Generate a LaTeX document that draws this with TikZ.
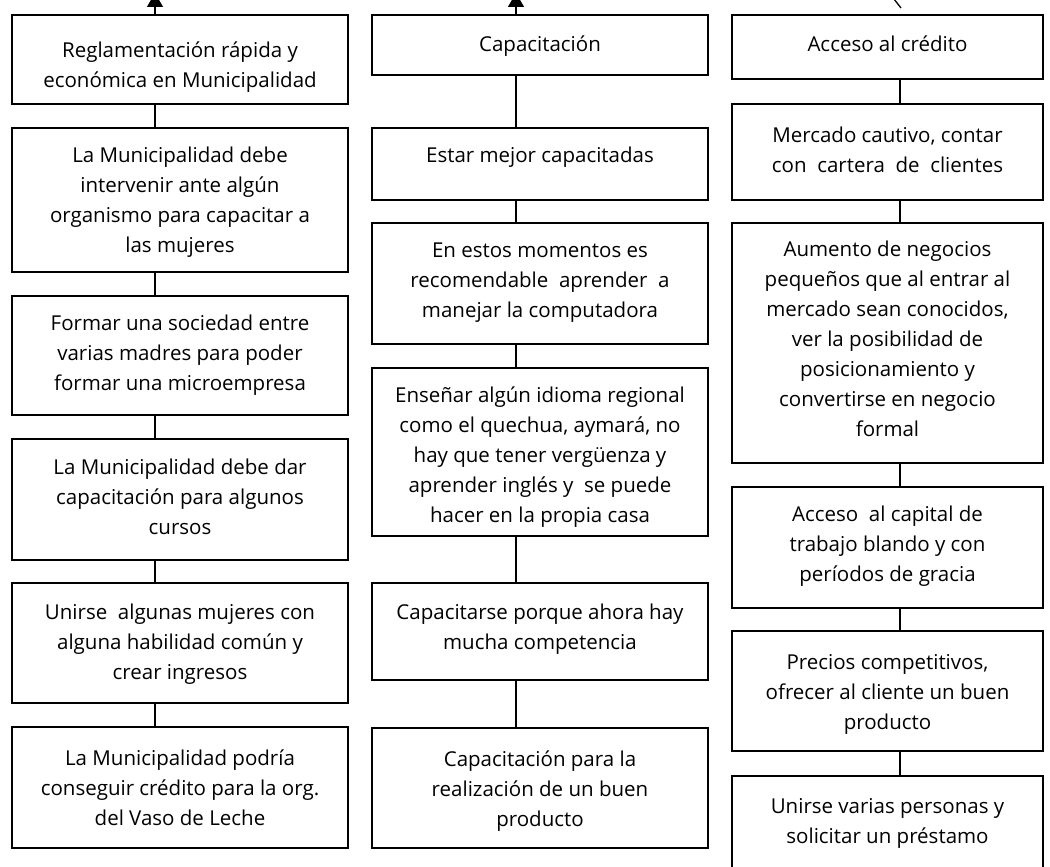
\documentclass[tikz,border=0pt]{standalone}
\usepackage{fontspec}
\setmainfont{Open Sans}
\usetikzlibrary{arrows.meta}
\begin{document}
\begin{tikzpicture}[x=1pt,y=-1pt,
  box/.style={draw=black,line width=1.8pt,rectangle,inner sep=0pt,fill=white},
  txt/.style={anchor=north,align=center,inner sep=0pt,font=\fontsize{20.5pt}{30pt}\selectfont},
  conn/.style={draw=black,line width=1.3pt}]
\useasboundingbox (0,0) rectangle (1050,867);
\clip (0,0) rectangle (1050,867);
% connector x positions
\coordinate (k1) at (155,0);
\coordinate (k2) at (516,0);
\coordinate (k3) at (900,0);
% column 1
\node[box,minimum width=336pt,minimum height=89pt]  (a1) at (180,59.5) {};
\node[box,minimum width=336pt,minimum height=144pt] (a2) at (180,200) {};
\node[box,minimum width=336pt,minimum height=119pt] (a3) at (180,355.5) {};
\node[box,minimum width=336pt,minimum height=121pt] (a4) at (180,499.5) {};
\node[box,minimum width=336pt,minimum height=120pt] (a5) at (180,643) {};
\node[box,minimum width=336pt,minimum height=121pt] (a6) at (180,787.5) {};
% column 2
\node[box,minimum width=336pt,minimum height=60pt]  (b1) at (540,45) {};
\node[box,minimum width=336pt,minimum height=72pt]  (b2) at (540,164) {};
\node[box,minimum width=336pt,minimum height=121pt] (b3) at (540,283.5) {};
\node[box,minimum width=336pt,minimum height=168pt] (b4) at (540,452) {};
\node[box,minimum width=336pt,minimum height=97pt]  (b5) at (540,631.5) {};
\node[box,minimum width=336pt,minimum height=120pt] (b6) at (540,788) {};
% column 3
\node[box,minimum width=311pt,minimum height=64pt]  (c1) at (887.5,47) {};
\node[box,minimum width=311pt,minimum height=96pt]  (c2) at (887.5,152) {};
\node[box,minimum width=311pt,minimum height=240pt] (c3) at (887.5,343) {};
\node[box,minimum width=311pt,minimum height=121pt] (c4) at (887.5,547.5) {};
\node[box,minimum width=311pt,minimum height=120pt] (c5) at (887.5,691) {};
\node[box,minimum width=311pt,minimum height=110pt] (c6) at (887.5,831) {};
% texts column 1
\node[txt,yshift=-27pt] (ta1) at (a1.north) {Reglamentación rápida y\\económica en Municipalidad};
\node[txt,yshift=-20pt] (ta2) at (a2.north) {La Municipalidad debe\\intervenir ante algún\\organismo para capacitar a\\las mujeres};
\node[txt,yshift=-20pt] (ta3) at (a3.north) {Formar una sociedad entre\\varias madres para poder\\formar una microempresa};
\node[txt,yshift=-21pt] (ta4) at (a4.north) {La Municipalidad debe dar\\capacitación para algunos\\cursos};
\node[txt,yshift=-22pt] (ta5) at (a5.north) {Unirse\ \ algunas mujeres con\\alguna habilidad común y\\crear ingresos};
\node[txt,yshift=-23pt] (ta6) at (a6.north) {La Municipalidad podría\\conseguir crédito para la org.\\del Vaso de Leche};
% texts column 2
\node[txt,yshift=-21pt] (tb1) at (b1.north) {Capacitación};
\node[txt,yshift=-20pt] (tb2) at (b2.north) {Estar mejor capacitadas};
\node[txt,yshift=-21pt] (tb3) at (b3.north) {En estos momentos es\\recomendable\ \ aprender\ \ a\\manejar la computadora};
\node[txt,yshift=-19pt] (tb4) at (b4.north) {Enseñar algún idioma regional\\como el quechua, aymará, no\\hay que tener vergüenza y\\aprender inglés y\ \ se puede\\hacer en la propia casa};
\node[txt,yshift=-22pt] (tb5) at (b5.north) {Capacitarse porque ahora hay\\mucha competencia};
\node[txt,yshift=-23pt] (tb6) at (b6.north) {Capacitación para la\\realización de un buen\\producto};
% texts column 3
\node[txt,yshift=-21pt] (tc1) at (c1.north) {Acceso al crédito};
\node[txt,yshift=-24pt] (tc2) at (c2.north) {Mercado cautivo, contar\\con\ \ cartera\ \ de\ \ clientes};
\node[txt,yshift=-19pt] (tc3) at (c3.north) {Aumento de negocios\\pequeños que al entrar al\\mercado sean conocidos,\\ver la posibilidad de\\posicionamiento y\\convertirse en negocio\\formal};
\node[txt,yshift=-20pt] (tc4) at (c4.north) {Acceso\ \ al capital de\\trabajo blando y con\\períodos de gracia};
\node[txt,yshift=-24pt] (tc5) at (c5.north) {Precios competitivos,\\ofrecer al cliente un buen\\producto};
\node[txt,yshift=-23pt] (tc6) at (c6.north) {Unirse varias personas y\\solicitar un préstamo};
% vertical connectors
\foreach \u/\v in {a1/a2,a2/a3,a3/a4,a4/a5,a5/a6}
  \draw[conn] (\u.south -| k1) -- (\v.north -| k1);
\foreach \u/\v in {b1/b2,b2/b3,b3/b4,b4/b5,b5/b6}
  \draw[conn] (\u.south -| k2) -- (\v.north -| k2);
\foreach \u/\v in {c1/c2,c2/c3,c3/c4,c4/c5,c5/c6}
  \draw[conn] (\u.south -| k3) -- (\v.north -| k3);
% arrows leaving upward (cut by the page edge)
\coordinate (up1) at (155,-7);
\coordinate (up2) at (516,-7);
\draw[conn,-{Triangle[width=16pt,length=14pt]}] (a1.north -| k1) -- (up1);
\draw[conn,-{Triangle[width=16pt,length=14pt]}] (b1.north -| k2) -- (up2);
\coordinate (s1) at (901,8);
\coordinate (s2) at (890,-6);
\draw[conn] (s1) -- (s2);
\end{tikzpicture}
\end{document}
